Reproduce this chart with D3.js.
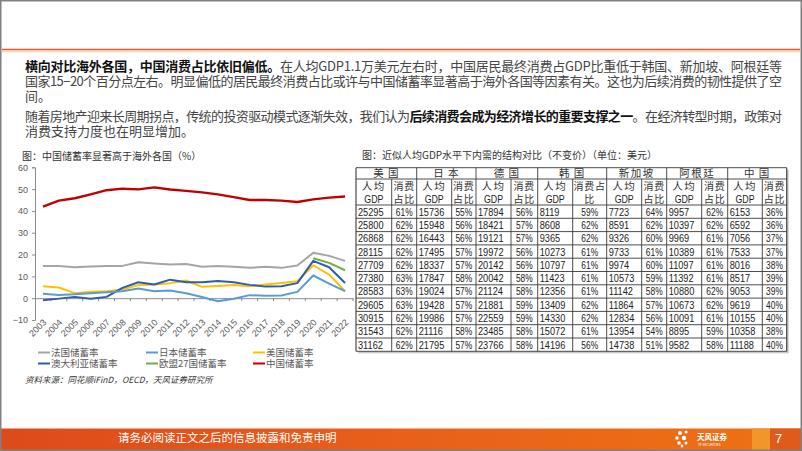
<!DOCTYPE html>
<html><head><meta charset="utf-8">
<script src="https://cdn.jsdelivr.net/npm/d3@7"></script>
<style>
html,body{margin:0;padding:0;background:#fff;}
svg{display:block;}
</style></head>
<body>
<svg id="c" width="802" height="451"></svg>
<script>
// ---------- Data ----------
const years = ["2003","2004","2005","2006","2007","2008","2009","2010","2011","2012","2013","2014","2015","2016","2017","2018","2019","2020","2021","2022"];
const franceRate = [14.8,14.8,14.2,14.5,14.8,14.8,16.5,15.9,15.4,15.7,14.4,14.7,14.4,13.9,14.4,13.9,15.0,20.8,19.4,17.1];
const japanRate = [2.0,1.5,1.8,2.3,2.7,3.2,4.4,3.2,3.5,2.3,0.5,-1.4,-0.3,1.4,1.1,1.2,2.9,10.4,6.7,3.2];
const usaRate = [5.5,4.9,2.3,2.9,3.2,4.0,6.0,6.3,6.9,8.1,5.2,5.6,6.1,5.5,6.3,7.0,7.8,15.1,10.8,3.2];
const australiaRate = [-0.9,-0.2,0.6,-0.3,0.6,4.7,7.3,6.3,8.5,7.3,7.3,7.9,7.3,6.1,5.3,5.5,6.9,17.1,14.2,7.0];
const eu27Rate = [null,null,null,null,null,null,null,null,null,null,null,null,null,null,null,null,null,18.3,16.2,12.8];
const chinaRate = [42.0,44.7,45.8,47.6,49.5,50.2,49.9,50.8,49.8,49.2,48.5,47.6,46.3,45.0,45.0,44.7,44.1,45.3,46.1,46.6];
const seriesNames = ["法国储蓄率","日本储蓄率","美国储蓄率","澳大利亚储蓄率","欧盟27国储蓄率","中国储蓄率"];
const yTicks = [-10,0,10,20,30,40,50,60];

const tableCountries = ["美 国","日 本","德 国","韩 国","新加坡","阿根廷","中 国"];
const gdpUS = [25295,25800,26868,28115,27709,27380,28583,29605,30915,31543,31162];
const shareUS = [61,62,62,62,62,63,63,63,62,62,62];
const gdpJP = [15736,15948,16443,17495,18337,17847,19024,19428,19986,21116,21795];
const shareJP = [55,56,56,57,57,58,57,57,57,58,57];
const gdpDE = [17894,18421,19121,19972,20142,20042,21124,21881,22559,23485,23766];
const shareDE = [56,57,57,56,56,58,58,59,59,58,58];
const gdpKR = [8119,8608,9365,10273,10797,11423,12356,13409,14330,15072,14196];
const shareKR = [59,62,62,61,61,61,61,62,62,61,56];
const gdpSG = [7723,8591,9326,9733,9974,10573,11142,11864,12834,13954,14738];
const shareSG = [64,62,60,61,60,59,58,57,56,54,51];
const gdpAR = [9957,10397,9969,10389,11097,11392,10880,10673,10091,8895,9582];
const shareAR = [62,62,61,61,61,61,62,62,61,59,58];
const gdpCN = [6153,6592,7056,7533,8016,8517,9053,9619,10155,10358,11188];
const shareCN = [36,36,37,37,38,39,39,40,40,38,40];

// ---------- Page ----------
const svg = d3.select("#c");
const CJK = "'Noto Sans CJK SC','Noto Sans',sans-serif";
const LAT = "'Liberation Sans',Arial,sans-serif";

svg.append("rect").attr("x",0).attr("y",0).attr("width",802).attr("height",451).attr("fill","#fff");
svg.append("line").attr("x1",2).attr("x2",800).attr("y1",51.5).attr("y2",51.5).attr("stroke","#f6d2bf").attr("stroke-width",1.5);
svg.append("line").attr("x1",2).attr("x2",800).attr("y1",49.5).attr("y2",49.5).attr("stroke","#e55a1c").attr("stroke-width",1.6);

const para = svg.append("g").attr("font-family",CJK).attr("font-size",13);
const lines = [
  {y:71, just:true, parts:[["横向对比海外各国，中国消费占比依旧偏低。",true],["在人均GDP1.1万美元左右时，中国居民最终消费占GDP比重低于韩国、新加坡、阿根廷等",false]]},
  {y:86, just:true, parts:[["国家15−20个百分点左右。明显偏低的居民最终消费占比或许与中国储蓄率显著高于海外各国等因素有关。这也为后续消费的韧性提供了空",false]]},
  {y:101, just:false, parts:[["间。",false]]},
  {y:121, just:true, parts:[["随着房地产迎来长周期拐点，传统的投资驱动模式逐渐失效，我们认为",false],["后续消费会成为经济增长的重要支撑之一",true],["。在经济转型时期，政策对",false]]},
  {y:136, just:false, parts:[["消费支持力度也在明显增加。",false]]}
];
lines.forEach(l=>{
  const t = para.append("text").attr("x",25).attr("y",l.y);
  l.parts.forEach(p=>{
    t.append("tspan").text(p[0]).attr("fill",p[1]?"#111":"#454545").attr("font-weight",p[1]?"bold":"normal");
  });
  if(l.just){ t.attr("textLength",757).attr("lengthAdjust","spacing"); }
});

// ---------- Line chart ----------
svg.append("text").attr("x",22).attr("y",160).attr("font-family",CJK).attr("font-size",10).attr("fill","#333")
  .text("图：中国储蓄率显著高于海外各国（%）");

const x = d3.scaleBand().domain(years).range([35,353]);
const y = d3.scaleLinear().domain([-10,60]).range([320,167.3]);
const gAxisY = svg.append("g").attr("transform","translate(35,0)")
  .call(d3.axisLeft(y).tickValues(yTicks).tickSize(3).tickPadding(4));
gAxisY.select(".domain").attr("stroke","#8c8c8c");
gAxisY.selectAll(".tick line").attr("stroke","#8c8c8c");
gAxisY.selectAll("text").attr("fill","#595959").attr("font-size",9).attr("font-family",LAT);

const gAxisX = svg.append("g").attr("transform",`translate(0,${y(0)})`)
  .call(d3.axisBottom(x).tickSize(0).tickFormat(""));
gAxisX.select(".domain").attr("stroke","#8c8c8c");
gAxisX.selectAll(".bt").data(years).enter().append("line")
  .attr("x1",d=>x(d)+x.step()).attr("x2",d=>x(d)+x.step())
  .attr("y1",0).attr("y2",3).attr("stroke","#8c8c8c");
svg.append("g").selectAll("text").data(years).enter().append("text")
  .attr("transform",d=>`translate(${x(d)+x.bandwidth()/2+4},${y(-10)+3}) rotate(-45)`)
  .attr("text-anchor","end").attr("font-size",9).attr("fill","#595959")
  .attr("font-family",LAT).text(d=>d);

const series = [
  {name:seriesNames[0], vals:franceRate, color:"#a5a5a5", w:2},
  {name:seriesNames[1], vals:japanRate, color:"#5b9bd5", w:2},
  {name:seriesNames[2], vals:usaRate, color:"#ffc000", w:2},
  {name:seriesNames[3], vals:australiaRate, color:"#2f5cad", w:2},
  {name:seriesNames[4], vals:eu27Rate, color:"#70ad47", w:2},
  {name:seriesNames[5], vals:chinaRate, color:"#c00000", w:2.4}
];
const line = d3.line().defined(d=>d.v!=null).x(d=>x(d.yr)+x.bandwidth()/2).y(d=>y(d.v));
[0,2,4,3,1,5].forEach(i=>{
  const s = series[i];
  svg.append("path").datum(years.map((yr,j)=>({yr, v:s.vals[j]})))
    .attr("d",line).attr("fill","none").attr("stroke",s.color).attr("stroke-width",s.w)
    .attr("stroke-linejoin","round");
});

const legX = [38,146,253], legY = [352.5,363.5];
series.forEach((s,i)=>{
  const lx = legX[i%3], ly = legY[Math.floor(i/3)];
  svg.append("line").attr("x1",lx).attr("x2",lx+12).attr("y1",ly).attr("y2",ly).attr("stroke",s.color).attr("stroke-width",2);
  svg.append("text").attr("x",lx+13).attr("y",ly+3.3).attr("font-family",CJK).attr("font-size",9.5).attr("fill","#595959").text(s.name);
});
svg.append("text").attr("x",25).attr("y",383).attr("font-family",CJK).attr("font-size",8.5).attr("font-style","italic").attr("fill","#333")
  .text("资料来源：同花顺iFinD，OECD，天风证券研究所");

// ---------- Table ----------
svg.append("text").attr("x",362).attr("y",159).attr("font-family",CJK).attr("font-size",10).attr("fill","#333")
  .text("图：近似人均GDP水平下内需的结构对比（不变价）（单位：美元）");

const colEdges = [356,391.7,416.7,451.7,476,511,537.7,572.7,606.7,641.7,666.7,701.7,727.7,762.3,786.7];
const tTop = 167.7, h1 = 179, h2 = 205, rowH = 13.3;
const gdpCols = [gdpUS,gdpJP,gdpDE,gdpKR,gdpSG,gdpAR,gdpCN];
const shareCols = [shareUS,shareJP,shareDE,shareKR,shareSG,shareAR,shareCN];
const nRows = gdpUS.length;
const tBottom = h2 + rowH*nRows;
const tg = svg.append("g");
tg.append("rect").attr("x",colEdges[0]+2).attr("y",tTop+2).attr("width",colEdges[14]-colEdges[0]).attr("height",tBottom-tTop).attr("fill","#c8c8c8");
tg.append("rect").attr("x",colEdges[0]).attr("y",tTop).attr("width",colEdges[14]-colEdges[0]).attr("height",tBottom-tTop).attr("fill","#fff");

const SX = 0.8;
function narrow(px, py, str, anchor, size){
  tg.append("text").attr("transform",`translate(${px},${py}) scale(${SX},1)`)
    .attr("text-anchor",anchor).attr("font-family",LAT).attr("font-size",size).attr("fill","#222").text(str);
}
tableCountries.forEach((c,i)=>{
  const cx = (colEdges[2*i]+colEdges[2*i+2])/2;
  tg.append("text").attr("x",cx).attr("y",(tTop+h1)/2+3.8).attr("text-anchor","middle")
    .attr("font-family",CJK).attr("font-size",10.5).attr("fill","#333").attr("letter-spacing",c.indexOf(" ")>=0?1:1.5).text(c);
  const gx = (colEdges[2*i]+colEdges[2*i+1])/2, sx = (colEdges[2*i+1]+colEdges[2*i+2])/2;
  tg.append("text").attr("x",gx).attr("y",190).attr("text-anchor","middle").attr("font-family",CJK).attr("font-size",10.5).attr("fill","#333").attr("letter-spacing",1.5).text("人均");
  narrow(gx, 202.5, "GDP", "middle", 11);
  const l1 = i===3 ? "消费占" : "消费", l2 = i===3 ? "比" : "占比";
  tg.append("text").attr("x",sx).attr("y",190).attr("text-anchor","middle").attr("font-family",CJK).attr("font-size",10).attr("fill","#333").attr("letter-spacing",0.8).text(l1);
  tg.append("text").attr("x",sx).attr("y",202.5).attr("text-anchor","middle").attr("font-family",CJK).attr("font-size",10).attr("fill","#333").attr("letter-spacing",0.8).text(l2);
  for(let r=0;r<nRows;r++){
    const cy = h2 + rowH*(r+0.5) + 4;
    narrow(colEdges[2*i]+2, cy, gdpCols[i][r], "start", 11.5);
    narrow(sx, cy, shareCols[i][r]+"%", "middle", 10.5);
  }
});
const hLines = [tTop,h1,h2].concat(d3.range(1,nRows+1).map(r=>h2+rowH*r));
hLines.forEach(hy=>{
  tg.append("line").attr("x1",colEdges[0]).attr("x2",colEdges[14]).attr("y1",hy).attr("y2",hy).attr("stroke","#3a3a3a").attr("stroke-width",0.9);
});
colEdges.forEach((cx,k)=>{
  const yStart = (k%2===1) ? h1 : tTop;
  tg.append("line").attr("x1",cx).attr("x2",cx).attr("y1",yStart).attr("y2",tBottom).attr("stroke","#3a3a3a").attr("stroke-width",(k===0||k===14)?1.1:0.9);
});

// ---------- Footer ----------
const defs = svg.append("defs");
const grad = defs.append("linearGradient").attr("id","fg").attr("x1","0").attr("x2","1");
grad.append("stop").attr("offset","0").attr("stop-color","#dd4a1b");
grad.append("stop").attr("offset","0.5").attr("stop-color","#e8601a");
grad.append("stop").attr("offset","1").attr("stop-color","#ee7214");
svg.append("rect").attr("x",0).attr("y",428.5).attr("width",802).attr("height",22.5).attr("fill","url(#fg)");
svg.append("rect").attr("x",752).attr("y",428.5).attr("width",18).attr("height",22.5).attr("fill","#f2962c");
svg.append("rect").attr("x",770).attr("y",428.5).attr("width",32).attr("height",22.5).attr("fill","#e05a1c");
svg.append("text").attr("x",118).attr("y",441.5).attr("font-family",CJK).attr("font-size",11.5).attr("fill","#fff")
  .text("请务必阅读正文之后的信息披露和免责申明");
svg.append("text").attr("x",775).attr("y",443).attr("font-family",LAT).attr("font-size",13).attr("fill","#fff").text("7");
const lg = svg.append("g").attr("fill","#fff");
[[680,433,2],[686,432,1.6],[677,438,1.8],[684,438,2.2],[679,443,1.8],[686,443,1.5],[682,446,1.4]].forEach(p=>{
  lg.append("circle").attr("cx",p[0]).attr("cy",p[1]).attr("r",p[2]);
});
lg.append("text").attr("x",697).attr("y",440).attr("font-family",CJK).attr("font-size",7.5).attr("font-weight","bold").text("天风证券");
lg.append("text").attr("x",698).attr("y",445.5).attr("font-family",LAT).attr("font-size",3).text("TF SECURITIES");

svg.append("rect").attr("x",0.75).attr("y",0.75).attr("width",800.5).attr("height",449.5).attr("fill","none").attr("stroke","#808080").attr("stroke-width",1.5);
</script>
</body></html>
